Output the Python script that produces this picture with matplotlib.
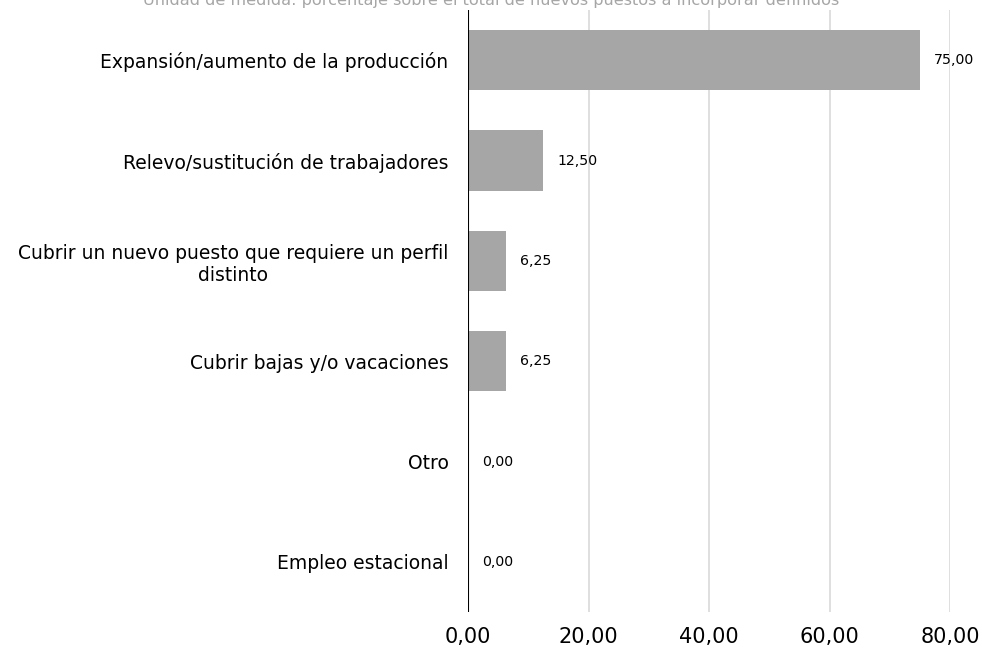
import matplotlib.pyplot as plt
import numpy as np

categories = [
    "Expansión/aumento de la producción",
    "Relevo/sustitución de trabajadores",
    "Cubrir un nuevo puesto que requiere un perfil\ndistinto",
    "Cubrir bajas y/o vacaciones",
    "Otro",
    "Empleo estacional",
]
values = [75.00, 12.50, 6.25, 6.25, 0.00, 0.00]
xticks = [0, 20, 40, 60, 80]
subtitle = "Unidad de medida: porcentaje sobre el total de nuevos puestos a incorporar definidos"

plt.rcParams['font.family'] = ['DejaVu Sans']

fig = plt.figure(figsize=(9.82, 6.48), dpi=100)
ax = fig.add_axes([468 / 982, 1 - 612 / 648, (950 - 468) / 982, 602 / 648])

y = np.arange(len(categories))
ax.barh(y, values, height=0.6, color='#a6a6a6', zorder=2)
ax.set_ylim(len(categories) - 0.5, -0.5)
ax.set_xlim(0, 80)

ax.set_yticks(y)
ax.set_yticklabels(categories, fontsize=13.5, color='#000000')
ax.tick_params(axis='y', length=0, pad=14)
for lbl in ax.get_yticklabels():
    lbl.set_multialignment('center')

ax.set_xticks(xticks)
ax.set_xticklabels([f"{v:.2f}".replace('.', ',') for v in xticks], fontsize=15)
ax.tick_params(axis='x', length=0, pad=11)

ax.grid(axis='x', color='#d9d9d9', linewidth=1.2, zorder=0)
ax.axvline(0, color='black', linewidth=1.5, zorder=3)
for s in ax.spines.values():
    s.set_visible(False)

for yi, v in zip(y, values):
    ax.annotate(f"{v:.2f}".replace('.', ','), (v, yi), xytext=(10, 0),
                textcoords='offset points', va='center', ha='left', fontsize=10.2)

fig.text(0.5, 1.0, subtitle, ha='center', va='center', fontsize=11.6, color='#a6a6a6')

fig.savefig('out.png', dpi=100)
